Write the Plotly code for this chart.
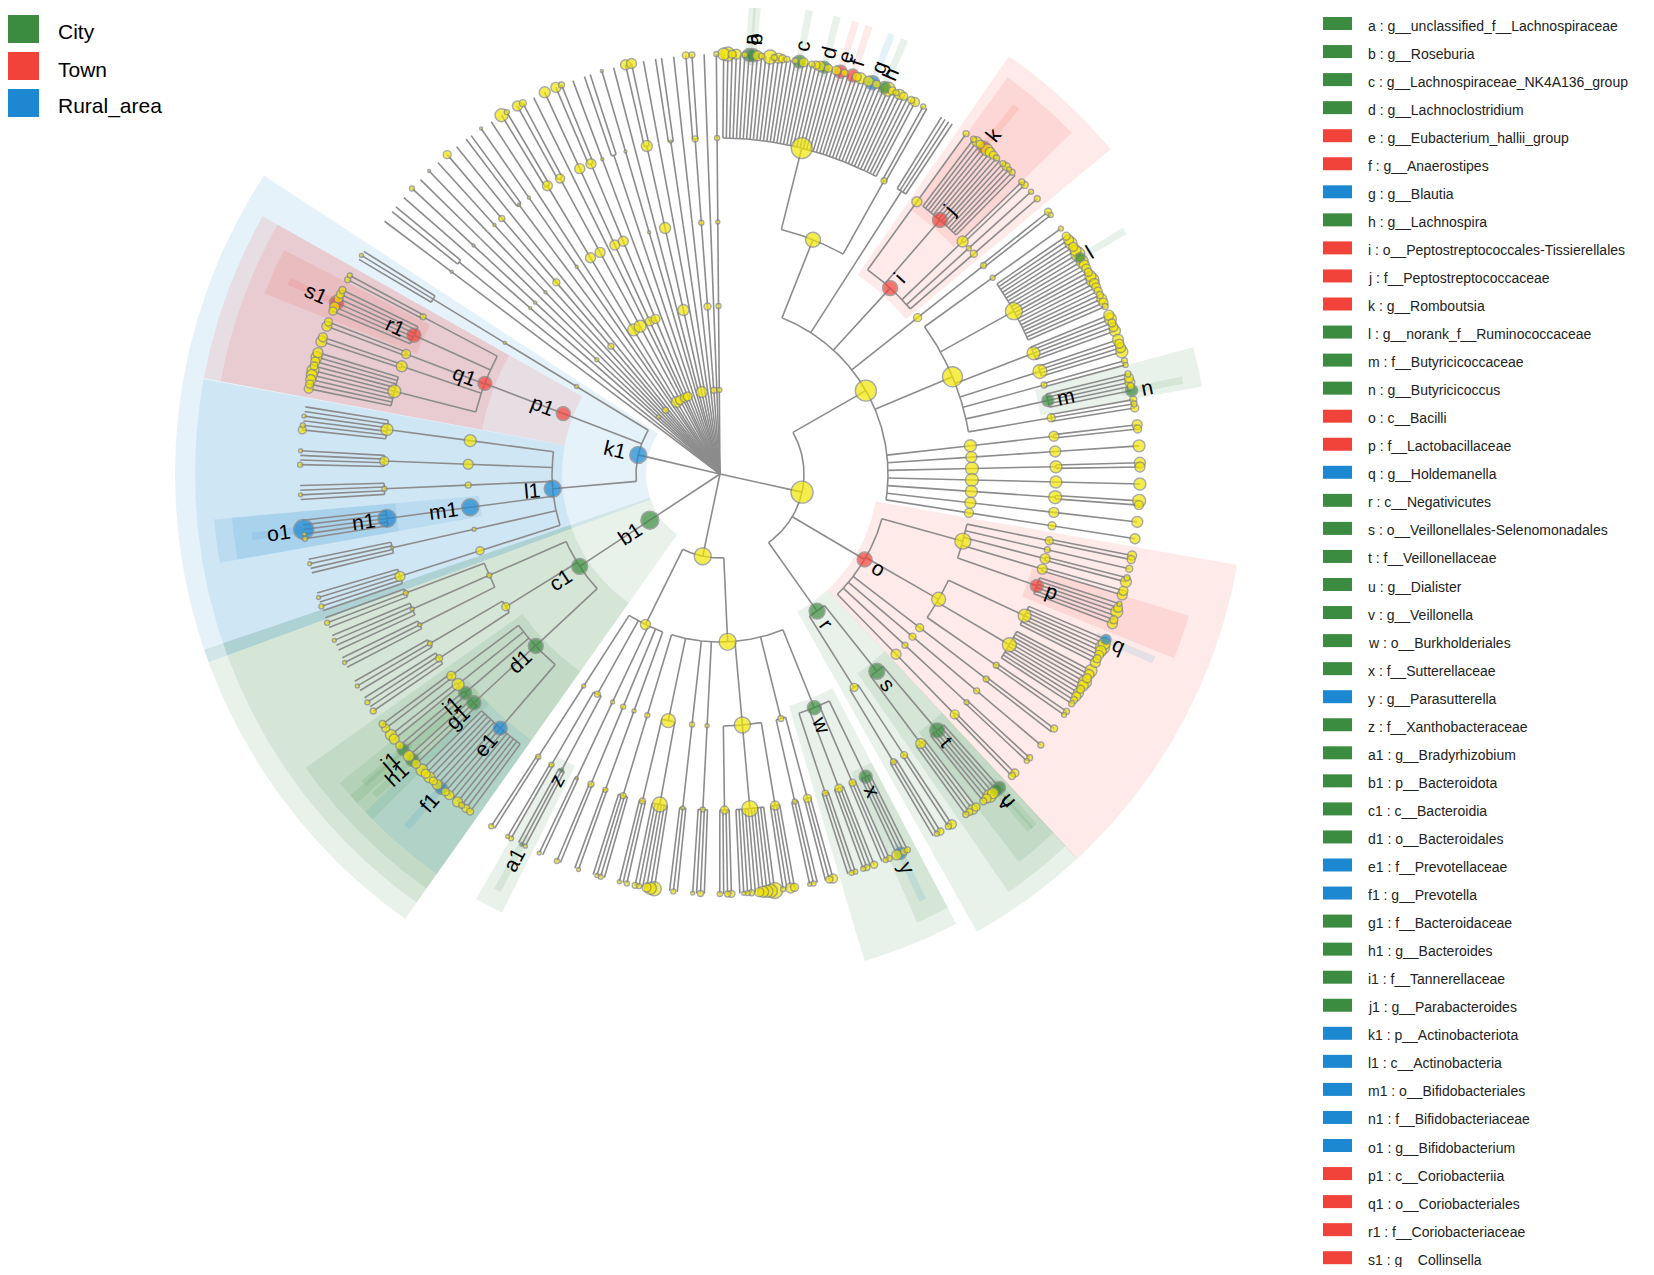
import math

import plotly.graph_objects as go

# biomarkers found by LEfSe: letter key, taxon and the group it is enriched in
MARK_KEYS = ["a", "b", "c", "d", "e", "f", "g", "h", "i", "j", "k", "l", "m", "n", "o", "p", "q",
             "r", "s", "t", "u", "v", "w", "x", "y", "z", "a1", "b1", "c1", "d1", "e1", "f1", "g1",
             "h1", "i1", "j1", "k1", "l1", "m1", "n1", "o1", "p1", "q1", "r1", "s1"]
MARK_TAXA = ["g__unclassified_f__Lachnospiraceae", "g__Roseburia", "g__Lachnospiraceae_NK4A136_group",
             "g__Lachnoclostridium", "g__Eubacterium_hallii_group", "g__Anaerostipes", "g__Blautia",
             "g__Lachnospira", "o__Peptostreptococcales-Tissierellales", "f__Peptostreptococcaceae",
             "g__Romboutsia", "g__norank_f__Ruminococcaceae", "f__Butyricicoccaceae", "g__Butyricicoccus",
             "c__Bacilli", "f__Lactobacillaceae", "g__Holdemanella", "c__Negativicutes",
             "o__Veillonellales-Selenomonadales", "f__Veillonellaceae", "g__Dialister", "g__Veillonella",
             "o__Burkholderiales", "f__Sutterellaceae", "g__Parasutterella", "f__Xanthobacteraceae",
             "g__Bradyrhizobium", "p__Bacteroidota", "c__Bacteroidia", "o__Bacteroidales",
             "f__Prevotellaceae", "g__Prevotella", "f__Bacteroidaceae", "g__Bacteroides",
             "f__Tannerellaceae", "g__Parabacteroides", "p__Actinobacteriota", "c__Actinobacteria",
             "o__Bifidobacteriales", "f__Bifidobacteriaceae", "g__Bifidobacterium", "c__Coriobacteriia",
             "o__Coriobacteriales", "f__Coriobacteriaceae", "g__Collinsella"]
MARK_GROUPS = ["City", "City", "City", "City", "Town", "Town", "Rural_area", "City", "Town", "Town",
               "Town", "City", "City", "City", "Town", "Town", "Rural_area", "City", "City", "City",
               "City", "City", "City", "City", "Rural_area", "City", "City", "City", "City", "City",
               "Rural_area", "Rural_area", "City", "City", "City", "City", "Rural_area", "Rural_area",
               "Rural_area", "Rural_area", "Rural_area", "Town", "Town", "Town", "Town"]

GROUPS = ["City", "Town", "Rural_area"]
GROUP_COLORS = ["#3b8c40", "#f2433a", "#1c88d1"]

# cladogram, one nested list per phylum
# internal node: [key, node size, [children]]; genus leaf: size or (key, size)
FIRMICUTES = [None, 22, [
    [None, 21, [  # c__Clostridia
        [None, 15, [  # o__Lachnospirales
            [None, 21, [12, 14, 8, 10, 0, 6, ("a", 13), ("b", 13), 10, 6, 0, 14, 6, 10, 8, 6, 0, 6,
                        ("c", 13), 9, 0, 6, 8, 10, ("d", 12), 8, 0, 9, ("e", 13), 7, 0, ("f", 13),
                        9, 11, 0, 10, ("g", 14), 8, 0, ("h", 12), 14, 8, 6, 10, 8, 0, 7, 9]],
            [None, 6, [5, 0]],
        ]],
        [None, 0, [[None, 0, [0, 0, 0, 0]]]],
        ["i", 15, [  # o__Peptostreptococcales-Tissierellales
            [None, 10, [6]],
            ["j", 15, [6, 10, 8, ("k", 12), 12, 10, 8, 6, 0, 6, 8, 5, 6, 0]],
            [None, 11, [6, 7]],
            [None, 5, [5]],
            [None, 7, [6]],
        ]],
        [None, 8, [[None, 6, [7, 5]]]],
        [None, 20, [  # o__Oscillospirales
            [None, 5, [5]],
            [None, 17, [8, 10, 12, 9, 11, 14, ("l", 10), 12, 10, 9, 8, 11, 13, 10, 9, 8, 7, 10, 9, 6]],
            [None, 13, [10, 12, 8, 9, 11]],
            [None, 14, [11, 9, 10, 12]],
            [None, 6, [6, 5]],
            ["m", 12, [6, 9, 10, 7, ("n", 12)]],
            [None, 8, [7, 6, 8]],
        ]],
        [None, 12, [[None, 10, [10, 8]]]],
        [None, 11, [[None, 11, [12]]]],
        [None, 13, [[None, 12, [11, 10]]]],
        [None, 13, [[None, 12, [12]]]],
        [None, 12, [[None, 13, [13, 9]]]],
        [None, 11, [[None, 10, [11]]]],
        [None, 9, [[None, 8, [10]]]],
    ]],
    ["o", 15, [  # c__Bacilli
        [None, 16, [
            [None, 8, [9, 8]],
            [None, 6, [7]],
            [None, 10, [6, 11]],
            [None, 10, [9, 10]],
            ["p", 13, [5, 9, 12, 0, 8, 10]],
        ]],
        [None, 14, [
            [None, 13, [("q", 10), 12, 14, 11, 9, 8, 10]],
            [None, 14, [12, 10, 9, 13, 11, 8, 10, 9, 7, 6]],
            [None, 6, [6, 5]],
        ]],
        [None, 8, [[None, 6, [7, 0]]]],
        [None, 7, [[None, 6, [6]]]],
        [None, 6, [[None, 5, [6, 5]]]],
        [None, 10, [[None, 9, [8, 7]]]],
    ]],
    ["r", 16, [  # c__Negativicutes
        ["s", 16, [
            ["t", 15, [("u", 12), ("v", 12), 11, 13, 9, 7]],
            [None, 10, [8, 10, 7, 6]],
        ]],
        [None, 8, [[None, 7, [9, 6]], [None, 6, [7, 5, 0]]]],
    ]],
]]

PROTEOBACTERIA = [None, 17, [
    [None, 17, [  # c__Gammaproteobacteria
        ["w", 14, [
            ["x", 13, [6, 7, ("y", 12), 10]],
            [None, 7, [6, 5, 0]],
            [None, 8, [7, 0, 6, 5]],
            [None, 6, [5, 5, 0]],
        ]],
        [None, 6, [[None, 8, [9, 7, 0]], [None, 5, [0, 5, 4]]]],
        [None, 16, [
            [None, 9, [8, 10, 0, 5]],
            [None, 16, [16, 13, 12, 11, 9, 0, 6, 5, 4, 0]],
            [None, 8, [7, 6, 0, 5]],
        ]],
        [None, 4, [[None, 5, [0, 6, 0, 4]]]],
        [None, 5, [[None, 4, [0, 5, 0]]]],
        [None, 14, [[None, 15, [14, 12, 9, 0, 5, 6]], [None, 6, [5, 0, 4]]]],
        [None, 5, [[None, 6, [0, 5, 4, 0]]]],
    ]],
    [None, 10, [  # c__Alphaproteobacteria
        [None, 4, [[None, 5, [4, 0]]]],
        [None, 5, [[None, 6, [0, 5]]]],
        [None, 4, [[None, 3, [0, 4]]]],
        [None, 6, [["z", 4, [4, ("a1", 4), 0]], [None, 5, [5, 4]]]],
        [None, 4, [[None, 5, [0, 5]]]],
    ]],
]]

BACTEROIDOTA = ["b1", 18, [
    ["c1", 16, [
        ["d1", 15, [
            ["e1", 14, [7, 8, 6, 10, 0, 9, 8, ("f1", 12), 10, 8, 11, 9, 12]],
            ["g1", 14, [9, ("h1", 13), 11]],
            ["i1", 13, [("j1", 12), 8]],
            [None, 12, [10, 11]],
            [None, 9, [8, 7]],
        ]],
        [None, 8, [[None, 7, [6, 0, 5, 0]], [None, 5, [0, 4, 0]]]],
        [None, 5, [[None, 4, [0, 4, 0]], [None, 4, [0, 0, 4, 0]], [None, 5, [0, 5, 0]]]],
    ]],
]]

ACTINOBACTERIOTA = ["k1", 17, [
    ["l1", 17, [
        [None, 8, [[None, 10, [0, 5, 0, 4, 0]]]],
        [None, 4, [[None, 3, [0, 0, 4, 0]]]],
        ["m1", 17, [["n1", 18, [5, 4, ("o1", 20), 0, 0]]]],
        [None, 6, [[None, 5, [0, 4, 0, 0]]]],
        [None, 10, [[None, 9, [5, 0, 0, 4]]]],
        [None, 12, [[None, 12, [8, 5, 0, 4, 0, 0]]]],
    ]],
    ["p1", 14, [
        ["q1", 14, [
            [None, 13, [9, 8, 10, 11, 12, 8, 9, 11, 10]],
            [None, 11, [11, 9]],
            [None, 9, [10, 8]],
            ["r1", 14, [8, 10, ("s1", 14), 9, 8, 7]],
            [None, 6, [6, 5]],
        ]],
    ]],
    [None, 4, [[None, 3, [[None, 0, [0, 4, 0]]]]]],
]]

# small phyla in the upper-left fan, each a single class / order / family lineage
MINOR_PHYLUM_SIZE = [0, 0, 0, 4, 0, 0, 0, 6, 0, 0, 0, 0, 11, 9, 0, 9, 9, 0, 0, 0, 0, 11, 0, 0, 0, 6, 0, 5]
MINOR_CLASS_SIZE = [0, 0, 0, 4, 0, 0, 0, 6, 0, 0, 0, 0, 12, 12, 0, 9, 9, 0, 0, 0, 0, 11, 0, 0, 0, 7, 0, 5]
MINOR_ORDER_SIZE = [0, 0, 3, 3, 0, 3, 0, 7, 0, 0, 3, 0, 10, 10, 0, 10, 10, 0, 0, 3, 0, 11, 0, 0, 0, 5, 0, 4]
MINOR_FAMILY_SIZE = [3, 0, 0, 3, 0, 0, 3, 6, 0, 3, 3, 0, 10, 9, 0, 10, 10, 3, 0, 3, 0, 11, 0, 3, 0, 6, 0, 5]
MINOR_GENUS_SIZES = [[0], [0, 0], [0], [5], [0], [3], [0], [8], [0], [0, 0], [3], [0], [13, 5], [10, 7],
                     [0], [11], [10, 6], [0], [0, 0], [3], [0], [10, 10], [0], [0, 0], [0], [7, 6],
                     [0], [5]]

MINOR_PHYLA = [
    [None, p, [[None, c, [[None, o, [[None, f, g]]]]]]]
    for p, c, o, f, g in zip(MINOR_PHYLUM_SIZE, MINOR_CLASS_SIZE, MINOR_ORDER_SIZE,
                             MINOR_FAMILY_SIZE, MINOR_GENUS_SIZES)
]

# layout: angular block (degrees clockwise from 12 o'clock) for each group of phyla and
# the extra spacing between neighbouring leaves that split at phylum/class/order/family
BLOCKS = [
    ([FIRMICUTES], 0.5, 149.5, (3.0, 3.0, 3.0, 1.2)),
    ([PROTEOBACTERIA], 153.5, 213.0, (3.0, 3.0, 3.0, 1.2)),
    ([BACTEROIDOTA], 216.5, 250.0, (3.0, 3.0, 2.0, 0.6)),
    ([ACTINOBACTERIOTA], 251.0, 302.0, (3.0, 3.0, 3.5, 1.5)),
    (MINOR_PHYLA, 307.0, 359.5, (1.0, 0.0, 0.0, 0.0)),
]

W, H = 1654, 1275          # page size
OFF = 8                    # page margin around the plot div
FW, FH = W - 2 * OFF, H - 2 * OFF
CX, CY = 720 - OFF, 474 - OFF   # cladogram centre inside the figure
STEP = 84                  # radius step per taxonomic rank
OUTER = {1: 545, 2: 525, 3: 508, 4: 490, 5: 472}
LINE_GREY = "#8c8c8c"
NODE_YELLOW = "#f2e600"
FONT = "Arial, Liberation Sans, sans-serif"

color_of_group = dict(zip(GROUPS, GROUP_COLORS))
group_of_key = dict(zip(MARK_KEYS, MARK_GROUPS))


def build(spec, depth):
    if isinstance(spec, list):
        key, size, kids = spec
        return {"key": key, "size": size, "depth": depth,
                "kids": [build(k, depth + 1) for k in kids]}
    key, size = spec if isinstance(spec, tuple) else (None, spec)
    return {"key": key, "size": size, "depth": depth, "kids": []}


def collect_leaves(node, chain, out):
    chain = chain + [id(node)]
    if not node["kids"]:
        out.append((node, chain))
    for k in node["kids"]:
        collect_leaves(k, chain, out)


def set_internal(node):
    if node["kids"]:
        for k in node["kids"]:
            set_internal(k)
        node["angle"] = (node["kids"][0]["angle"] + node["kids"][-1]["angle"]) / 2
        node["a0"] = node["kids"][0]["a0"]
        node["a1"] = node["kids"][-1]["a1"]
    else:
        node["a0"] = node["a1"] = node["angle"]


def walk(node):
    yield node
    for k in node["kids"]:
        yield from walk(k)


phyla = []
for specs, start, end, gaps in BLOCKS:
    roots = [build(s, 1) for s in specs]
    leaves = []
    for r in roots:
        collect_leaves(r, [], leaves)
    pos = [0.0]
    for (_, pc), (_, cc) in zip(leaves, leaves[1:]):
        d = 0
        while pc[d] == cc[d]:
            d += 1
        pos.append(pos[-1] + 1.0 + (gaps[d] if d < len(gaps) else 0.0))
    total = pos[-1] or 1.0
    for (leaf, _), p in zip(leaves, pos):
        leaf["angle"] = start + (end - start) * p / total
    for r in roots:
        set_internal(r)
    phyla.extend(roots)


def xy(r, a):
    t = math.radians(a)
    return r * math.sin(t), r * math.cos(t)


def arc(r, a0, a1):
    n = max(2, int(abs(a1 - a0) / 0.4) + 2)
    pts = [xy(r, a0 + (a1 - a0) * i / (n - 1)) for i in range(n)]
    return [p[0] for p in pts], [p[1] for p in pts]


lx, ly = [], []


def add_seg(xs, ys):
    lx.extend(xs + [None])
    ly.extend(ys + [None])


nodes = []
for ph in phyla:
    x1, y1 = xy(STEP, ph["angle"])
    add_seg([0, x1], [0, y1])
    for n in walk(ph):
        nodes.append(n)
        if not n["kids"]:
            continue
        r = STEP * n["depth"]
        if len(n["kids"]) > 1:
            ax, ay = arc(r, n["kids"][0]["angle"], n["kids"][-1]["angle"])
            add_seg(ax, ay)
        for k in n["kids"]:
            xa, ya = xy(r, k["angle"])
            xb, yb = xy(r + STEP, k["angle"])
            add_seg([xa, xb], [ya, yb])

fig = go.Figure()

# shaded sectors behind each biomarker clade
marked = [n for n in nodes if n["key"]]
for n in sorted(marked, key=lambda n: n["depth"]):
    col = color_of_group[group_of_key[n["key"]]]
    rgb = tuple(int(col[i:i + 2], 16) for i in (1, 3, 5))
    pad = 0.45 if n["depth"] == 5 else 1.2
    a0, a1 = n["a0"] - pad, n["a1"] + pad
    r_in, r_out = STEP * n["depth"] - 10, OUTER[n["depth"]]
    ox, oy = arc(r_out, a0, a1)
    ix, iy = arc(r_in, a1, a0)
    fig.add_trace(go.Scatter(
        x=ox + ix, y=oy + iy, mode="lines", fill="toself",
        fillcolor="rgba(%d,%d,%d,0.11)" % rgb, line=dict(width=0), hoverinfo="skip"))

fig.add_trace(go.Scatter(x=lx, y=ly, mode="lines", line=dict(color=LINE_GREY, width=1.6),
                         hoverinfo="skip"))

dots = sorted([n for n in nodes if n["size"] > 0], key=lambda n: -n["size"])
dx, dy = zip(*[xy(STEP * n["depth"], n["angle"]) for n in dots])
fig.add_trace(go.Scatter(
    x=dx, y=dy, mode="markers", hoverinfo="skip",
    marker=dict(size=[n["size"] for n in dots],
                color=[color_of_group[group_of_key[n["key"]]] if n["key"] else NODE_YELLOW
                       for n in dots],
                line=dict(color="#858585", width=1.4))))

NARROW = {"i": 5, "j": 5, "l": 5, "f": 6, "t": 6, "r": 7, "m": 17, "w": 15}
for n in marked:
    wtxt = sum(NARROW.get(ch, 11) for ch in n["key"])
    r = STEP * n["depth"] + n["size"] / 2 + 4 + wtxt / 2
    x, y = xy(r, n["angle"])
    a = n["angle"] % 360
    ang = a - 90 if a < 180 else a - 270
    fig.add_annotation(x=x, y=y, text=n["key"], showarrow=False, textangle=ang,
                       font=dict(family=FONT, size=21, color="black"))


def px(x):
    return (x - OFF) / FW


def py(y):
    return 1 - (y - OFF) / FH


# group legend, top left
for i, (g, c) in enumerate(zip(GROUPS, GROUP_COLORS)):
    top = 15 + 37 * i
    fig.add_shape(type="rect", xref="paper", yref="paper", x0=px(6), x1=px(39),
                  y0=py(top + 28), y1=py(top), fillcolor=c, line=dict(width=0))
    fig.add_annotation(xref="paper", yref="paper", x=px(56), y=py(top + 17), text=g,
                       showarrow=False, xanchor="left", yanchor="middle",
                       font=dict(family=FONT, size=21, color="black"))

# biomarker legend, right
for i, (k, t, g) in enumerate(zip(MARK_KEYS, MARK_TAXA, MARK_GROUPS)):
    yc = 25.5 + 28.05 * i
    fig.add_shape(type="rect", xref="paper", yref="paper", x0=px(1323), x1=px(1352),
                  y0=py(yc + 4.5), y1=py(yc - 8.5), fillcolor=color_of_group[g],
                  line=dict(width=0))
    fig.add_annotation(xref="paper", yref="paper", x=px(1366), y=py(yc), text=f"{k} : {t}",
                       showarrow=False, xanchor="left", yanchor="middle",
                       font=dict(family=FONT, size=14, color="#222222"))

fig.update_layout(
    width=FW, height=FH, margin=dict(l=0, r=0, t=0, b=0, pad=0),
    paper_bgcolor="white", plot_bgcolor="white", showlegend=False,
    xaxis=dict(range=[-CX, FW - CX], visible=False, fixedrange=True),
    yaxis=dict(range=[CY - FH, CY], visible=False, fixedrange=True),
)

fig.write_html("out.html")
